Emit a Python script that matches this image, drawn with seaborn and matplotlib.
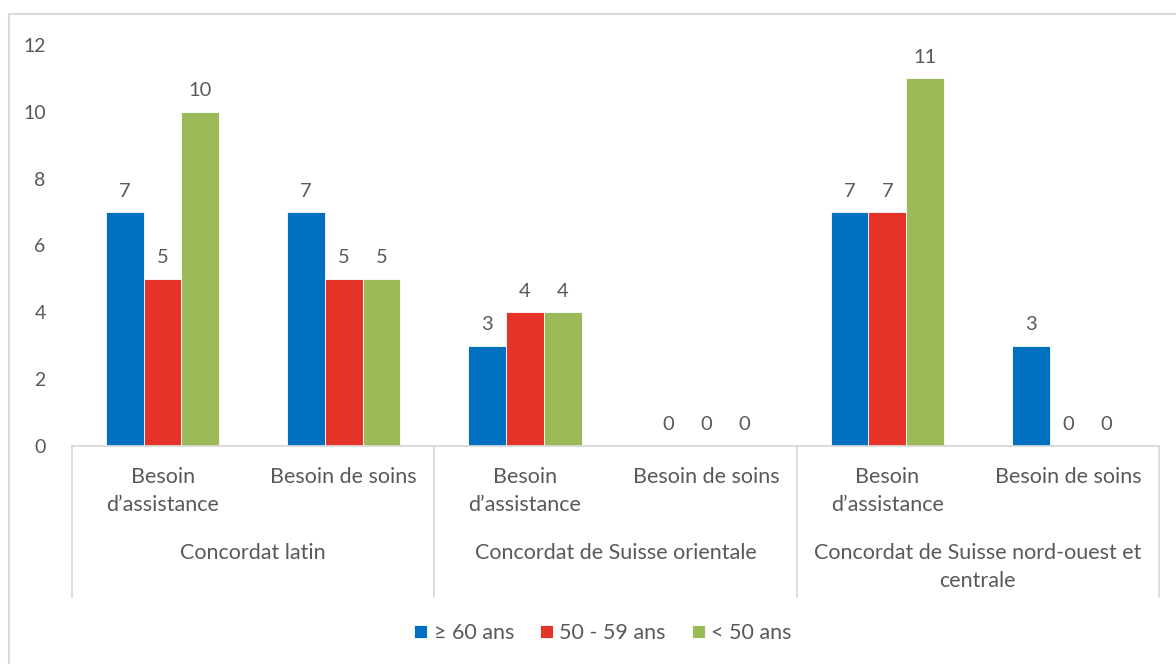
import numpy as np
import pandas as pd
import matplotlib.pyplot as plt
import seaborn as sns
from matplotlib.patches import Rectangle

groups = ["Concordat latin", "Concordat de Suisse orientale",
          "Concordat de Suisse nord-ouest et\ncentrale"]
besoins = ["Besoin\nd’assistance", "Besoin de soins"]
ages = ["≥ 60 ans", "50 - 59 ans", "< 50 ans"]

# one value per (groupe, besoin), in order
age_60_plus = [7, 7, 3, 0, 7, 3]
age_50_59 = [5, 5, 4, 0, 7, 0]
age_under_50 = [10, 5, 4, 0, 11, 0]

colors = ["#0070C0", "#E5332A", "#9BBB59"]
txt = "#595959"

keys = [f"{g}|{b}" for g in groups for b in besoins]
rows = []
for age, vals in zip(ages, [age_60_plus, age_50_59, age_under_50]):
    for k, v in zip(keys, vals):
        rows.append({"cat": k, "age": age, "n": v})
df = pd.DataFrame(rows)

sns.set_style("white")
plt.rcParams["font.family"] = ["Lato", "DejaVu Sans"]

fig = plt.figure(figsize=(11.76, 6.64), dpi=100)
ax = fig.add_axes([72 / 1176, 218 / 664, 1087 / 1176, 401 / 664])

sns.barplot(data=df, x="cat", y="n", hue="age", order=keys, hue_order=ages,
            palette=colors, width=0.625, saturation=1, ax=ax,
            edgecolor="white", linewidth=0.6)

for cont in ax.containers:
    ax.bar_label(cont, fmt="%d", padding=9, fontsize=14.5, color=txt)

ax.set_ylim(0, 12)
ax.set_xlim(-0.5, 5.5)
ax.set_yticks(range(0, 13, 2))
ax.tick_params(axis="y", length=0, pad=19, labelsize=14, labelcolor=txt)
ax.set_xticks(range(6))
ax.set_xticklabels(besoins * 3, fontsize=15.5, color=txt, linespacing=1.5)
ax.tick_params(axis="x", length=0, pad=15)
ax.set_xlabel("")
ax.set_ylabel("")
for s in ["top", "right", "left"]:
    ax.spines[s].set_visible(False)
ax.spines["bottom"].set_color("#D9D9D9")
ax.spines["bottom"].set_linewidth(1.3)

# group labels and separators under the axis
trans = ax.get_xaxis_transform()
for i, g in enumerate(groups):
    ax.text(2 * i + 0.5, -97 / 401, g, transform=trans, ha="center", va="top",
            fontsize=15.5, color=txt, linespacing=1.5)
for xs in [-0.5, 1.5, 3.5, 5.5]:
    ax.plot([xs, xs], [0, -151 / 401], transform=trans, color="#D9D9D9",
            lw=1.3, clip_on=False)

leg = ax.legend(loc="center", bbox_to_anchor=(603 / 1176, 31 / 664),
                bbox_transform=fig.transFigure, ncol=3, frameon=False,
                fontsize=15.5, handlelength=0.6, handleheight=0.6,
                handletextpad=0.3, columnspacing=1.2)
for t in leg.get_texts():
    t.set_color(txt)

fig.patches.append(Rectangle((9 / 1176, -0.1), 1.2, 0.1 + 650 / 664, fill=False,
                             edgecolor="#D9D9D9", lw=1.5,
                             transform=fig.transFigure, figure=fig))

fig.savefig("out.png", dpi=100)
